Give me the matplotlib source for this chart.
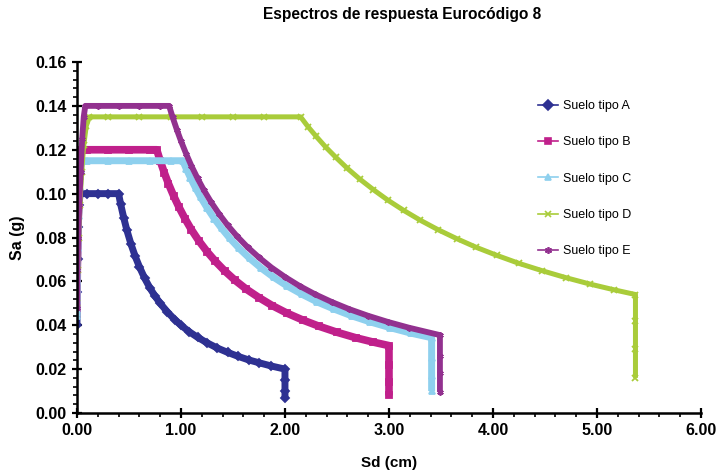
import matplotlib
matplotlib.use("Agg")
import matplotlib.pyplot as plt
from matplotlib.lines import Line2D
from matplotlib.ticker import MultipleLocator, FormatStrFormatter

plt.rcParams['font.family'] = ['Liberation Sans', 'DejaVu Sans']

title = "Espectros de respuesta Eurocódigo 8"
xlabel = "Sd (cm)"
ylabel = "Sa (g)"

labels = ["Suelo tipo A", "Suelo tipo B", "Suelo tipo C", "Suelo tipo D", "Suelo tipo E"]

sd_A = [0.000, 0.002, 0.006, 0.012, 0.020, 0.030, 0.10, 0.20, 0.30, 0.40,
        0.42, 0.45, 0.48, 0.52, 0.56, 0.60, 0.65, 0.70, 0.75, 0.80, 0.87, 0.94, 1.00,
        1.08, 1.16, 1.25, 1.35, 1.45, 1.55, 1.65, 1.75, 1.87, 2.00,
        2.00, 2.00, 2.00]
sa_A = [0.040, 0.055, 0.070, 0.085, 0.095, 0.100, 0.100, 0.100, 0.100, 0.100,
        0.0952, 0.0889, 0.0833, 0.0769, 0.0714, 0.0667, 0.0615, 0.0571, 0.0533, 0.050,
        0.0460, 0.0426, 0.040, 0.0370, 0.0345, 0.032, 0.0296, 0.0276, 0.0258, 0.0242,
        0.0229, 0.0214, 0.020,
        0.015, 0.010, 0.007]

sd_B = [0.000, 0.003, 0.008, 0.015, 0.025, 0.035, 0.045, 0.10, 0.30, 0.50, 0.70, 0.767,
        0.80, 0.84, 0.88, 0.93, 0.98, 1.04, 1.10, 1.17, 1.25, 1.33, 1.42, 1.52, 1.63,
        1.75, 1.88, 2.02, 2.17, 2.33, 2.50, 2.68, 2.85, 3.00,
        3.00, 3.00, 3.00]
sa_B = [0.048, 0.065, 0.080, 0.095, 0.108, 0.116, 0.120, 0.120, 0.120, 0.120, 0.120, 0.120,
        0.115, 0.1095, 0.1045, 0.0989, 0.0939, 0.0885, 0.0836, 0.0786, 0.0736, 0.0692,
        0.0648, 0.0605, 0.0564, 0.0526, 0.0489, 0.0455, 0.0424, 0.0395, 0.0368, 0.0343,
        0.0323, 0.0307,
        0.022, 0.014, 0.008]

sd_C = [0.000, 0.003, 0.008, 0.015, 0.025, 0.035, 0.045, 0.10, 0.30, 0.50, 0.70, 0.90, 1.017,
        1.05, 1.09, 1.14, 1.19, 1.25, 1.32, 1.39, 1.47, 1.56, 1.66, 1.77, 1.89, 2.02,
        2.16, 2.31, 2.47, 2.64, 2.82, 3.01, 3.21, 3.41,
        3.41, 3.41, 3.41]
sa_C = [0.044, 0.060, 0.075, 0.090, 0.103, 0.111, 0.115, 0.115, 0.115, 0.115, 0.115, 0.115, 0.115,
        0.1114, 0.1073, 0.1026, 0.0983, 0.0936, 0.0886, 0.0842, 0.0796, 0.075, 0.0705,
        0.0661, 0.0619, 0.0579, 0.0542, 0.0506, 0.0474, 0.0443, 0.0415, 0.0389, 0.0364,
        0.0343,
        0.025, 0.017, 0.010]

sd_D = [0.000, 0.006, 0.015, 0.028, 0.045, 0.065, 0.09, 0.12, 0.30, 0.60, 0.90, 1.20, 1.50,
        1.80, 2.15, 2.22, 2.30, 2.39, 2.49, 2.60, 2.72, 2.85, 2.99, 3.14, 3.30, 3.47, 3.65,
        3.84, 4.04, 4.25, 4.47, 4.70, 4.93, 5.16, 5.37,
        5.37, 5.37, 5.37]
sa_D = [0.050, 0.065, 0.080, 0.095, 0.110, 0.122, 0.131, 0.135, 0.135, 0.135, 0.135, 0.135,
        0.135, 0.135, 0.135, 0.1306, 0.1261, 0.1213, 0.1165, 0.1115, 0.1066, 0.1018, 0.097,
        0.0924, 0.0879, 0.0836, 0.0795, 0.0755, 0.0718, 0.0682, 0.0649, 0.0617, 0.0588,
        0.0562, 0.054,
        0.042, 0.029, 0.016]

sd_E = [0.000, 0.005, 0.012, 0.022, 0.035, 0.050, 0.065, 0.08, 0.20, 0.40, 0.60, 0.80, 0.886,
        0.92, 0.96, 1.00, 1.05, 1.10, 1.16, 1.22, 1.29, 1.37, 1.45, 1.54, 1.64, 1.75, 1.87,
        2.00, 2.14, 2.29, 2.45, 2.62, 2.80, 2.99, 3.19, 3.49,
        3.49, 3.49, 3.49]
sa_E = [0.048, 0.065, 0.080, 0.095, 0.110, 0.125, 0.135, 0.140, 0.140, 0.140, 0.140, 0.140,
        0.140, 0.1348, 0.1292, 0.124, 0.1181, 0.1127, 0.1069, 0.1016, 0.0961, 0.0905,
        0.0855, 0.0805, 0.0756, 0.0709, 0.0663, 0.062, 0.0579, 0.0541, 0.0506, 0.0473,
        0.0443, 0.0415, 0.0389, 0.0355,
        0.026, 0.018, 0.0095]

series = [(sd_A, sa_A), (sd_B, sa_B), (sd_C, sa_C), (sd_D, sa_D), (sd_E, sa_E)]
colors = ["#2E3192", "#C0208B", "#8ED0EE", "#A9CC3A", "#92318F"]
markers = ["D", "s", "^", "x", (6, 2, 0)]
widths = [5.0, 5.5, 5.0, 3.6, 4.2]

fig = plt.figure(figsize=(7.18, 4.76), dpi=100)
ax = fig.add_axes([0.1072, 0.1324, 0.8691, 0.7373])

for (x, y), c, m, w in zip(series, colors, markers, widths):
    ax.plot(x, y, color=c, lw=w, solid_joinstyle='round', solid_capstyle='butt',
            marker=m, ms=4.5, mew=1.3, mec=c, mfc=c, zorder=2)

ax.set_xlim(0, 6)
ax.set_ylim(0, 0.16)
ax.xaxis.set_major_locator(MultipleLocator(1.0))
ax.xaxis.set_minor_locator(MultipleLocator(0.2))
ax.yaxis.set_major_locator(MultipleLocator(0.02))
ax.yaxis.set_minor_locator(MultipleLocator(0.004))
ax.xaxis.set_major_formatter(FormatStrFormatter('%.2f'))
ax.yaxis.set_major_formatter(FormatStrFormatter('%.2f'))

for s in ['top', 'right']:
    ax.spines[s].set_visible(False)
for s in ['left', 'bottom']:
    ax.spines[s].set_linewidth(1.8)
    ax.spines[s].set_color('black')

ax.tick_params(which='major', direction='inout', length=7, width=1.6, colors='black',
               labelsize=11.5, pad=4)
ax.tick_params(which='minor', direction='out', length=3, width=1.2, colors='black')
for lab in ax.get_xticklabels() + ax.get_yticklabels():
    lab.set_fontweight('bold')

ax.set_xlabel(xlabel, fontsize=11, fontweight='bold')
ax.set_ylabel(ylabel, fontsize=11.5, fontweight='bold')
ax.xaxis.set_label_coords(0.5, -(463 - 413) / 351)
ax.xaxis.label.set_va('center')
ax.yaxis.set_label_coords((18 - 77) / 624, 0.5)
ax.yaxis.label.set_va('center')

fig.text(402 / 718, 1 - 15 / 476, title, ha='center', va='center', fontsize=11.2,
         fontweight='bold')

handles = [Line2D([0], [0], color=c, lw=1.2, marker=m, ms=5, mew=1.2, mec=c, mfc=c)
           for c, m in zip(colors, markers)]
leg = ax.legend(handles, labels, loc='upper left', bbox_to_anchor=(0.721, 0.924),
                frameon=False, fontsize=9, handlelength=1.6, labelspacing=1.95,
                handletextpad=0.4)

fig.savefig("out.png", dpi=100)
